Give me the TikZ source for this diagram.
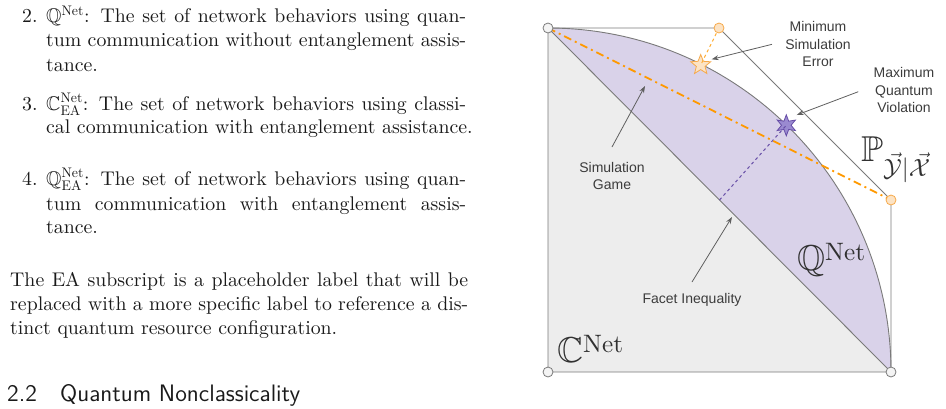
\documentclass[tikz,border=0pt]{standalone}
\usepackage{amsmath}
\usepackage{amssymb}
\usepackage{fontspec}
\setmainfont{lmroman10-regular.otf}[BoldFont=lmroman10-bold.otf, ItalicFont=lmroman10-italic.otf]
\setsansfont{lmsans12-regular.otf}
\newfontfamily\labelfont{Liberation Sans}
\usetikzlibrary{shapes.geometric,arrows.meta}
\definecolor{inkc}{HTML}{1A1A1A}
\definecolor{grayfill}{HTML}{EDEDED}
\definecolor{lavfill}{HTML}{D9D2E9}
\definecolor{edgec}{HTML}{7A7A7A}
\definecolor{arrowc}{HTML}{5F5F5F}
\definecolor{orangec}{HTML}{FF9900}
\definecolor{orangefill}{HTML}{FCE3C4}
\definecolor{orangeedge}{HTML}{F6A94A}
\definecolor{purplec}{HTML}{674EA7}
\definecolor{purplefill}{HTML}{9A8AD0}
\definecolor{dotfill}{HTML}{F4F4F4}
\tikzset{
  txt/.style={inner sep=0pt, anchor=base west, text=inkc, font=\fontsize{19.8}{23.8}\selectfont},
  headtxt/.style={inner sep=0pt, anchor=base west, text=inkc, font=\fontsize{23.8}{28}\selectfont\sffamily},
  lbl/.style={inner sep=0pt, align=center, text=inkc!85, font=\labelfont\fontsize{14}{17.3}\selectfont},
  mathlbl/.style={inner sep=0pt, anchor=base west, text=inkc!90, font=\fontsize{36}{40}\selectfont},
  corner/.style={circle, draw=edgec, fill=dotfill, line width=0.8pt, minimum size=10pt, inner sep=0pt},
  ocorner/.style={circle, draw=orangeedge, fill=orangefill, line width=0.8pt, minimum size=10pt, inner sep=0pt},
  pointer/.style={draw=arrowc, line width=0.8pt, -{Stealth[length=7pt,width=5pt]}},
  edge/.style={draw=edgec, line width=0.9pt},
}
\begin{document}
\begin{tikzpicture}[x=1pt,y=-1pt]
\useasboundingbox (0,0) rectangle (946,408);
% ---------- left text ----------
\node[txt] (n2) at (22,22.7) {2.};
\node[txt] (i2a) at (46,22.7) {\makebox[420pt][s]{$\mathbb{Q}^{\text{Net}}$: The set of network behaviors using quan-}};
\node[txt] (i2b) at (46,46.7) {\makebox[420pt][s]{tum communication without entanglement assis-}};
\node[txt] (i2c) at (46,71) {tance.};
\node[txt] (n3) at (22,110) {3.};
\node[txt] (i3a) at (46,110) {\makebox[420pt][s]{$\mathbb{C}^{\text{Net}}_{\text{EA}}$: The set of network behaviors using classi-}};
\node[txt] (i3b) at (46,133.3) {cal communication with entanglement assistance.};
\node[txt] (n4) at (22,185) {4.};
\node[txt] (i4a) at (46,185) {\makebox[420pt][s]{$\mathbb{Q}^{\text{Net}}_{\text{EA}}$: The set of network behaviors using quan-}};
\node[txt] (i4b) at (46,210) {\makebox[420pt][s]{tum communication with entanglement assis-}};
\node[txt] (i4c) at (46,233) {tance.};
\node[txt] (p1) at (10,286.7) {\makebox[458pt][s]{The EA subscript is a placeholder label that will be}};
\node[txt] (p2) at (10,310) {\makebox[458pt][s]{replaced with a more specific label to reference a dis-}};
\node[txt] (p3) at (10,334) {tinct quantum resource configuration.};
\node[headtxt] (hnum) at (7,401.7) {2.2};
\node[headtxt] (htitle) at (60,401.7) {Quantum Nonclassicality};
% ---------- figure ----------
\coordinate (TL) at (548,28);
\coordinate (BL) at (548,372);
\coordinate (BR) at (891,372);
\coordinate (TO) at (719,28);
\coordinate (RO) at (891,200);
\coordinate (MID) at (719.5,200);
\fill[grayfill] (TL) -- (BL) -- (BR) -- cycle;
\fill[lavfill] (TL) .. controls (737.4,28) and (891,182.6) .. (BR) -- cycle;
\draw[edge] (TL) .. controls (737.4,28) and (891,182.6) .. (BR);
\draw[edge] (TL) -- (BR);
\draw[edge] (TL) -- (TO) -- (RO) -- (BR) -- (BL) -- cycle;
% stars
\node[star, star points=5, star point ratio=2.3, minimum size=21pt, inner sep=0pt, draw=orangeedge, fill=orangefill, line width=0.8pt] (ostar) at (700.7,65) {};
\node[star, star points=6, star point ratio=2.2, minimum size=21pt, inner sep=0pt, draw=purplec, fill=purplefill, line width=0.8pt] (pstar) at (786.3,125.3) {};
\draw[orangec!80, dashed, line width=1pt] (TO) -- (ostar.center);
\draw[purplec, dashed, line width=1pt] (MID) -- (pstar.center);
\draw[orangec, line width=1.8pt, dash pattern=on 8pt off 4pt on 2pt off 4pt] (TL) -- (RO);
% corner dots
\node[corner] (cTL) at (TL) {};
\node[corner] (cBL) at (BL) {};
\node[corner] (cBR) at (BR) {};
\node[ocorner] (cTO) at (TO) {};
\node[ocorner] (cRO) at (RO) {};
% labels
\node[lbl] (lmin) at (818,44) {Minimum\\Simulation\\Error};
\node[lbl] (lmax) at (904,90) {Maximum\\Quantum\\Violation};
\node[lbl] (lgame) at (612,176) {Simulation\\Game};
\node[lbl] (lfacet) at (692,300) {Facet Inequality};
\coordinate (amin) at (772,44.3);
\coordinate (amax) at (858.3,91.7);
\coordinate (agame) at (612,147);
\coordinate (afacet) at (692,282);
\draw[pointer] (amin) -- (711.7,59.3);
\draw[pointer] (amax) -- (796.7,115);
\draw[pointer] (agame) -- (645,86);
\draw[pointer] (afacet) -- (732,217);
% set names
\node[mathlbl] (cnet) at (557,362) {$\mathbb{C}^{\text{Net}}$};
\node[mathlbl] (qnet) at (797,270) {$\mathbb{Q}^{\text{Net}}$};
\node[mathlbl] (pyx) at (861,161) {$\mathbb{P}_{\vec{\mathcal{Y}}|\vec{\mathcal{X}}}$};
\end{tikzpicture}
\end{document}
